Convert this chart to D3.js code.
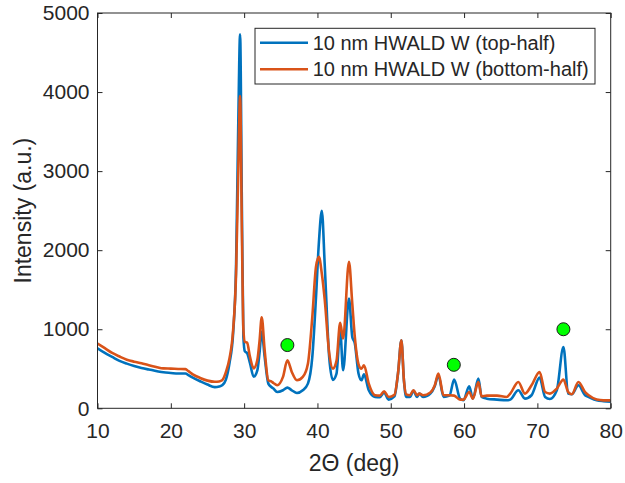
<!DOCTYPE html>
<html>
<head>
<meta charset="utf-8">
<script src="https://cdn.jsdelivr.net/npm/d3@7"></script>
<style>
  body { margin: 0; background: #fff; }
  svg text { font-family: "Liberation Sans", Arial, Helvetica, sans-serif; fill: #262626; }
</style>
</head>
<body>
<script>
// 2-theta positions (deg)
var theta = [10.0, 11.0, 12.0, 13.0, 14.0, 15.0, 16.0, 17.0, 18.0, 19.0, 20.0, 21.0, 22.0, 22.4, 23.0, 24.0, 25.0, 26.0, 26.6, 27.0,
  27.5, 28.0, 28.5, 28.9, 29.2, 29.45, 29.7, 29.9, 30.1, 30.4, 30.8, 31.3, 31.8, 32.1, 32.4, 32.8, 33.3, 33.7, 34.0, 34.5,
  35.3, 35.9, 36.5, 37.2, 38.0, 38.7, 39.3, 39.8, 40.2, 40.6, 41.0, 41.6, 42.1, 42.6, 43.1, 43.5, 44.3, 44.75, 45.1, 45.6,
  46.0, 46.35, 47.0, 47.85, 48.5, 49.1, 49.7, 50.5, 51.0, 51.45, 51.8, 52.1, 52.6, 53.1, 53.6, 53.9, 54.4, 55.4, 56.0, 56.5,
  57.2, 58.0, 58.65, 59.45, 59.9, 60.7, 61.2, 61.95, 62.4, 63.1, 64.5, 65.8, 66.3, 67.4, 68.3, 69.2, 70.3, 71.05, 71.7, 72.65,
  73.55, 74.2, 74.7, 75.6, 76.5, 77.0, 78.1, 79.0, 80.0];

var topHalf = [760, 700, 650, 600, 565, 535, 510, 490, 472, 455, 447, 440, 440, 420, 388, 342, 300, 268, 275, 291,
  360, 570, 950, 1800, 3600, 4730, 2500, 900, 720, 700, 570, 400, 480, 700, 970, 650, 312, 270, 250, 206,
  228, 262, 228, 194, 228, 312, 650, 1400, 2100, 2497, 1800, 650, 360, 440, 987, 481, 1388, 903, 820, 439,
  354, 430, 228, 143, 140, 200, 110, 150, 450, 860, 350, 143, 143, 220, 143, 186, 143, 186, 280, 418,
  143, 160, 363, 122, 101, 278, 122, 376, 143, 122, 110, 101, 110, 228, 122, 165, 388, 143, 118, 228,
  776, 186, 177, 291, 165, 143, 101, 90, 85];

var bottomHalf = [820, 760, 700, 655, 615, 590, 570, 545, 523, 505, 502, 498, 495, 470, 430, 384, 350, 335, 340, 354,
  455, 630, 990, 1700, 3000, 3950, 2200, 1000, 840, 830, 650, 505, 610, 850, 1150, 734, 354, 340, 320, 291,
  397, 608, 460, 354, 397, 565, 1156, 1789, 1915, 1700, 1367, 700, 502, 600, 1080, 882, 1852, 1325, 900, 560,
  500, 544, 312, 165, 160, 215, 143, 170, 450, 860, 350, 177, 165, 228, 165, 186, 165, 200, 290, 439,
  165, 165, 160, 110, 110, 206, 122, 333, 150, 160, 160, 143, 186, 333, 186, 291, 460, 206, 186, 249,
  363, 206, 177, 333, 206, 165, 110, 100, 100];

var seriesNames = ["10 nm HWALD W (top-half)", "10 nm HWALD W (bottom-half)"];
var seriesColors = ["#0072BD", "#D95319"];

// green reference markers
var markerTheta = [35.9, 58.6, 73.55];
var markerVal = [800, 550, 1000];

var xTicks = [10, 20, 30, 40, 50, 60, 70, 80];
var yTicks = [0, 1000, 2000, 3000, 4000, 5000];

var W = 625, H = 483;
var plot = { left: 97.5, right: 610.7, top: 13, bottom: 408.3 };

var svg = d3.select("body").append("svg")
  .attr("width", W)
  .attr("height", H);

var x = d3.scaleLinear().domain([10, 80]).range([plot.left, plot.right]);
var y = d3.scaleLinear().domain([0, 5000]).range([plot.bottom, plot.top]);

svg.append("clipPath").attr("id", "clip")
  .append("rect")
  .attr("x", plot.left).attr("y", plot.top)
  .attr("width", plot.right - plot.left).attr("height", plot.bottom - plot.top);

var line = d3.line()
  .x(d => x(d[0]))
  .y(d => y(d[1]))
  .curve(d3.curveMonotoneX);

var lines = svg.append("g").attr("clip-path", "url(#clip)");
[topHalf, bottomHalf].forEach(function (vals, i) {
  lines.append("path")
    .datum(theta.map((t, j) => [t, vals[j]]))
    .attr("d", line)
    .attr("fill", "none")
    .attr("stroke", seriesColors[i])
    .attr("stroke-width", 2.6)
    .attr("stroke-linejoin", "round");
});

svg.append("g").selectAll("circle")
  .data(markerTheta)
  .enter()
  .append("circle")
    .attr("cx", d => x(d))
    .attr("cy", (d, i) => y(markerVal[i]))
    .attr("r", 6.5)
    .attr("fill", "#00FF00")
    .attr("stroke", "#1a1a1a")
    .attr("stroke-width", 1);

// axes (ticks inward, box on)
var axB = svg.append("g").attr("transform", "translate(0," + plot.bottom + ")")
  .call(d3.axisBottom(x).tickValues(xTicks).tickSizeInner(-5).tickSizeOuter(0).tickPadding(15).tickFormat(d3.format("d")));
var axL = svg.append("g").attr("transform", "translate(" + plot.left + ",0)")
  .call(d3.axisLeft(y).tickValues(yTicks).tickSizeInner(-5).tickSizeOuter(0).tickPadding(8).tickFormat(d3.format("d")));
var axT = svg.append("g").attr("transform", "translate(0," + plot.top + ")")
  .call(d3.axisTop(x).tickValues(xTicks).tickSizeInner(-5).tickSizeOuter(0).tickFormat(""));
var axR = svg.append("g").attr("transform", "translate(" + plot.right + ",0)")
  .call(d3.axisRight(y).tickValues(yTicks).tickSizeInner(-5).tickSizeOuter(0).tickFormat(""));

[axB, axL, axT, axR].forEach(function (a) {
  a.select(".domain").remove();
  a.selectAll("line").attr("stroke", "#262626");
  a.selectAll("text").attr("font-size", 21).attr("fill", "#262626")
    .style("font-family", "'Liberation Sans', Arial, sans-serif");
});

svg.append("rect")
  .attr("x", plot.left).attr("y", plot.top)
  .attr("width", plot.right - plot.left).attr("height", plot.bottom - plot.top)
  .attr("fill", "none").attr("stroke", "#262626").attr("stroke-width", 1);

// axis labels
svg.append("text")
  .attr("x", (plot.left + plot.right) / 2).attr("y", 471)
  .attr("text-anchor", "middle").attr("font-size", 23)
  .text("2\u0398 (deg)");

svg.append("text")
  .attr("transform", "translate(31," + (plot.top + plot.bottom) / 2 + ") rotate(-90)")
  .attr("text-anchor", "middle").attr("font-size", 23)
  .text("Intensity (a.u.)");

// legend
var leg = svg.append("g");
leg.append("rect")
  .attr("x", 255).attr("y", 28.3).attr("width", 340).attr("height", 55.7)
  .attr("fill", "#fff").attr("stroke", "#262626").attr("stroke-width", 1);
seriesNames.forEach(function (name, i) {
  var cy = 42.7 + i * 26.6;
  leg.append("line")
    .attr("x1", 260).attr("x2", 308).attr("y1", cy).attr("y2", cy)
    .attr("stroke", seriesColors[i]).attr("stroke-width", 2.6);
  leg.append("text")
    .attr("x", 312.7).attr("y", cy + 7)
    .attr("font-size", 20)
    .text(name);
});
</script>
</body>
</html>
